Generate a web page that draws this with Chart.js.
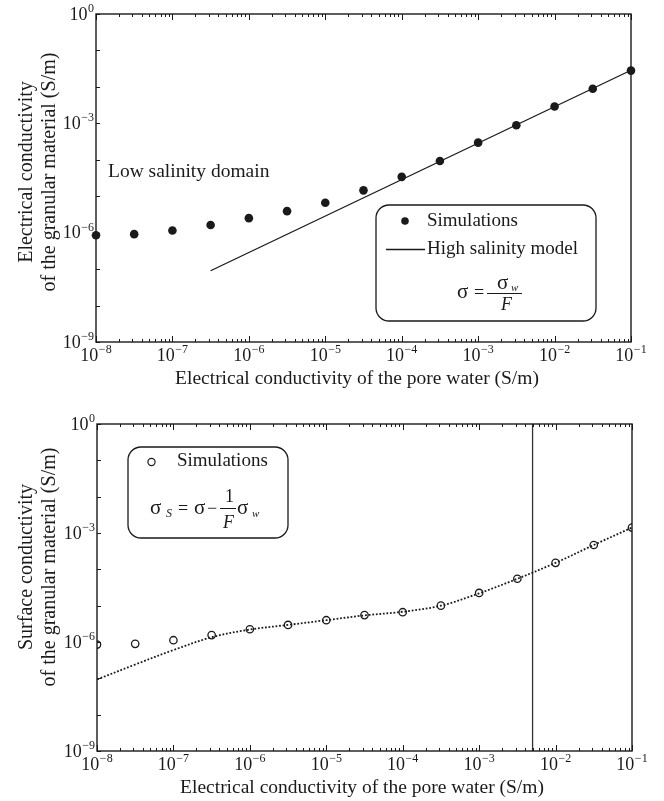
<!DOCTYPE html>
<html>
<head>
<meta charset="utf-8">
<script src="https://cdn.jsdelivr.net/npm/chart.js@4.4.1/dist/chart.umd.min.js"></script>
<style>
  html, body { margin: 0; padding: 0; background: #fff; }
  #wrap { position: relative; width: 664px; height: 801px; }
  canvas { position: absolute; left: 0; }
  #top { top: 0; }
  #bottom { top: 400px; }
</style>
</head>
<body>
<div id="wrap">
  <canvas id="top" width="664" height="400"></canvas>
  <canvas id="bottom" width="664" height="401"></canvas>
</div>
<script>
// Pore-water conductivity (S/m), half-decade steps
const poreWater = [1e-8, 3.16e-8, 1e-7, 3.16e-7, 1e-6, 3.16e-6, 1e-5, 3.16e-5,
                   1e-4, 3.16e-4, 1e-3, 3.16e-3, 1e-2, 3.16e-2, 1e-1];

// Bulk conductivity of the granular material, simulations (S/m)
const bulkSim = [8.5e-7, 9.1e-7, 1.15e-6, 1.62e-6, 2.5e-6, 3.9e-6, 6.6e-6, 1.45e-5,
                 3.4e-5, 9.3e-5, 2.95e-4, 8.9e-4, 2.9e-3, 8.9e-3, 2.8e-2];

// High salinity model sigma = sigma_w / F, end points
const highSalX = [3.16e-7, 1e-1];
const highSalY = [9.0e-8, 2.86e-2];

// Surface conductivity, simulations (S/m)
const surfaceSim = [8.5e-7, 8.9e-7, 1.12e-6, 1.55e-6, 2.24e-6, 2.95e-6, 3.98e-6, 5.5e-6,
                    6.6e-6, 1.0e-5, 2.24e-5, 5.5e-5, 1.51e-4, 4.68e-4, 1.41e-3];

// Surface conductivity trend curve (dotted)
const surfaceFit = [9.3e-8, 2.4e-7, 6.0e-7, 1.35e-6, 2.2e-6, 2.95e-6, 3.98e-6, 5.4e-6,
                    6.8e-6, 1.0e-5, 2.19e-5, 5.5e-5, 1.51e-4, 4.68e-4, 1.41e-3];

// Vertical marker on the lower panel
const markerX = 5e-3;

// Axis ticks (decade exponents)
const xTickExps = [-8, -7, -6, -5, -4, -3, -2, -1];
const yTickExps = [-9, -8, -7, -6, -5, -4, -3, -2, -1, 0];
const yLabelExps = [-9, -6, -3, 0];

const xTitle = 'Electrical conductivity of the pore water (S/m)';
const yTitleTop = ['Electrical conductivity', 'of the granular material (S/m)'];
const yTitleBottom = ['Surface conductivity', 'of the granular material (S/m)'];

const SERIF = '"Liberation Serif", "Times New Roman", serif';
const INK = '#1a1a1a';
Chart.defaults.font.family = SERIF;

function pts(xs, ys) { return xs.map((x, i) => ({ x: x, y: ys[i] })); }

function powLabel(ctx, exp, x, y, align) {
  const base = '10';
  const sup = exp < 0 ? '\u2212' + (-exp) : String(exp);
  ctx.font = '18px ' + SERIF;
  const wb = ctx.measureText(base).width;
  ctx.font = '12px ' + SERIF;
  const ws = ctx.measureText(sup).width;
  const w = wb + ws + 0.5;
  const x0 = align === 'center' ? x - w / 2 : x - w;
  ctx.textAlign = 'left';
  ctx.textBaseline = 'middle';
  ctx.font = '18px ' + SERIF;
  ctx.fillText(base, x0, y);
  ctx.font = '12px ' + SERIF;
  ctx.fillText(sup, x0 + wb + 0.5, y - 6);
}

function roundBox(ctx, x, y, w, h, r) {
  ctx.beginPath();
  ctx.moveTo(x + r, y);
  ctx.arcTo(x + w, y, x + w, y + h, r);
  ctx.arcTo(x + w, y + h, x, y + h, r);
  ctx.arcTo(x, y + h, x, y, r);
  ctx.arcTo(x, y, x + w, y, r);
  ctx.closePath();
  ctx.fillStyle = '#fff';
  ctx.fill();
  ctx.lineWidth = 1.3;
  ctx.strokeStyle = INK;
  ctx.stroke();
}

// Frame, inward ticks, power-of-ten labels and axis titles
function axesPlugin(cfg) {
  return {
    id: 'axesDecor',
    afterDatasetsDraw(chart) {
      const ctx = chart.ctx;
      const a = chart.chartArea;
      const xs = chart.scales.x, ys = chart.scales.y;
      ctx.save();
      ctx.strokeStyle = INK;
      ctx.fillStyle = INK;

      // x ticks, top and bottom, pointing inward
      ctx.lineWidth = 1;
      ctx.beginPath();
      xTickExps.forEach(e => {
        const px = Math.round(xs.getPixelForValue(Math.pow(10, e))) + 0.5;
        ctx.moveTo(px, a.bottom); ctx.lineTo(px, a.bottom - 6);
        ctx.moveTo(px, a.top); ctx.lineTo(px, a.top + 6);
        if (e < -1) {
          for (let k = 2; k <= 9; k++) {
            const pm = Math.round(xs.getPixelForValue(k * Math.pow(10, e))) + 0.5;
            ctx.moveTo(pm, a.bottom); ctx.lineTo(pm, a.bottom - 3);
            ctx.moveTo(pm, a.top); ctx.lineTo(pm, a.top + 3);
          }
        }
      });
      // y ticks on the left side
      yTickExps.forEach(e => {
        const py = Math.round(ys.getPixelForValue(Math.pow(10, e))) + 0.5;
        ctx.moveTo(a.left, py); ctx.lineTo(a.left + 4, py);
      });
      ctx.stroke();

      // frame
      ctx.lineWidth = 1.4;
      ctx.strokeRect(a.left, a.top, a.right - a.left, a.bottom - a.top);

      // tick labels
      xTickExps.forEach(e => {
        powLabel(ctx, e, xs.getPixelForValue(Math.pow(10, e)), a.bottom + 14, 'center');
      });
      yLabelExps.forEach(e => {
        powLabel(ctx, e, a.left - 2, ys.getPixelForValue(Math.pow(10, e)) + 1, 'right');
      });

      // axis titles
      ctx.font = '19.5px ' + SERIF;
      ctx.textAlign = 'center';
      ctx.textBaseline = 'middle';
      ctx.fillText(xTitle, cfg.xTitleX, a.bottom + cfg.xTitleOffset);
      ctx.font = '20px ' + SERIF;
      ctx.save();
      ctx.translate(27, cfg.yTitleY);
      ctx.rotate(-Math.PI / 2);
      ctx.fillText(cfg.yTitle[0], 0, 0);
      ctx.fillText(cfg.yTitle[1], 0, 23);
      ctx.restore();

      if (cfg.extra) cfg.extra(ctx, chart);
      ctx.restore();
    }
  };
}

// ---------- upper panel: bulk conductivity ----------
new Chart(document.getElementById('top'), {
  type: 'scatter',
  data: {
    datasets: [
      {
        label: 'Simulations',
        data: pts(poreWater, bulkSim),
        showLine: false,
        pointRadius: 4.3,
        pointBackgroundColor: INK,
        pointBorderColor: INK,
        pointBorderWidth: 0,
        clip: false,
        order: 0
      },
      {
        label: 'High salinity model',
        data: pts(highSalX, highSalY),
        showLine: true,
        borderColor: INK,
        borderWidth: 1.3,
        pointRadius: 0,
        clip: false,
        order: 1
      }
    ]
  },
  options: {
    responsive: false,
    animation: false,
    devicePixelRatio: 1,
    layout: { padding: { left: 96, right: 33, top: 14, bottom: 58 } },
    plugins: { legend: { display: false }, tooltip: { enabled: false } },
    scales: {
      x: { type: 'logarithmic', min: 1e-8, max: 1e-1, display: false },
      y: { type: 'logarithmic', min: 1e-9, max: 1, display: false }
    }
  },
  plugins: [axesPlugin({
    xTitleX: 357, xTitleOffset: 37,
    yTitle: yTitleTop, yTitleY: 172,
    extra(ctx) {
      ctx.fillStyle = INK;
      ctx.font = '19.5px ' + SERIF;
      ctx.textAlign = 'left';
      ctx.textBaseline = 'middle';
      ctx.fillText('Low salinity domain', 108, 172);

      // legend box
      roundBox(ctx, 376, 205, 220, 116, 13);
      ctx.fillStyle = INK;
      ctx.beginPath(); ctx.arc(405, 221, 3.8, 0, Math.PI * 2); ctx.fill();
      ctx.font = '19px ' + SERIF;
      ctx.textBaseline = 'middle';
      ctx.fillText('Simulations', 427, 221);
      ctx.lineWidth = 1.3;
      ctx.beginPath(); ctx.moveTo(386, 249.5); ctx.lineTo(425, 249.5); ctx.stroke();
      ctx.fillText('High salinity model', 427, 249);

      // sigma = sigma_w / F
      ctx.textBaseline = 'alphabetic';
      ctx.font = '21px ' + SERIF;
      ctx.fillText('\u03C3', 457, 298);
      ctx.font = '18px ' + SERIF;
      ctx.fillText('=', 474, 298);
      ctx.lineWidth = 1;
      ctx.beginPath(); ctx.moveTo(487, 293.5); ctx.lineTo(522, 293.5); ctx.stroke();
      ctx.font = '21px ' + SERIF;
      ctx.fillText('\u03C3', 497, 289);
      ctx.font = 'italic 11px ' + SERIF;
      ctx.fillText('w', 511, 291);
      ctx.font = 'italic 18px ' + SERIF;
      ctx.fillText('F', 501, 310);
    }
  })]
});

// ---------- lower panel: surface conductivity ----------
new Chart(document.getElementById('bottom'), {
  type: 'scatter',
  data: {
    datasets: [
      {
        label: 'Simulations',
        data: pts(poreWater, surfaceSim),
        showLine: false,
        pointRadius: 3.7,
        pointBackgroundColor: 'rgba(255,255,255,0)',
        pointBorderColor: INK,
        pointBorderWidth: 1.3,
        clip: 0,
        order: 0
      },
      {
        label: 'Trend',
        data: pts(poreWater, surfaceFit),
        showLine: true,
        borderColor: INK,
        borderWidth: 1.8,
        borderDash: [1.8, 1.8],
        tension: 0.35,
        pointRadius: 0,
        clip: 0,
        order: 1
      },
      {
        label: 'Marker',
        data: [{ x: markerX, y: 1e-9 }, { x: markerX, y: 1 }],
        showLine: true,
        borderColor: '#333',
        borderWidth: 1.3,
        pointRadius: 0,
        clip: 0,
        order: 2
      }
    ]
  },
  options: {
    responsive: false,
    animation: false,
    devicePixelRatio: 1,
    layout: { padding: { left: 97, right: 32, top: 24, bottom: 50 } },
    plugins: { legend: { display: false }, tooltip: { enabled: false } },
    scales: {
      x: { type: 'logarithmic', min: 1e-8, max: 1e-1, display: false },
      y: { type: 'logarithmic', min: 1e-9, max: 1, display: false }
    }
  },
  plugins: [axesPlugin({
    xTitleX: 362, xTitleOffset: 37,
    yTitle: yTitleBottom, yTitleY: 167,
    extra(ctx) {
      roundBox(ctx, 128, 47, 160, 91, 13);
      ctx.fillStyle = INK;
      ctx.strokeStyle = INK;
      ctx.lineWidth = 1.2;
      ctx.beginPath(); ctx.arc(151.5, 62, 3.6, 0, Math.PI * 2); ctx.stroke();
      ctx.font = '19px ' + SERIF;
      ctx.textAlign = 'left';
      ctx.textBaseline = 'middle';
      ctx.fillText('Simulations', 177, 61);

      // sigma_S = sigma - (1/F) sigma_w
      ctx.textBaseline = 'alphabetic';
      ctx.font = '21px ' + SERIF;
      ctx.fillText('\u03C3', 150, 114);
      ctx.font = 'italic 12px ' + SERIF;
      ctx.fillText('S', 166, 117);
      ctx.font = '18px ' + SERIF;
      ctx.fillText('=', 178, 114);
      ctx.font = '21px ' + SERIF;
      ctx.fillText('\u03C3', 194, 114);
      ctx.font = '18px ' + SERIF;
      ctx.fillText('\u2212', 207, 114);
      ctx.lineWidth = 1;
      ctx.beginPath(); ctx.moveTo(220, 108.5); ctx.lineTo(236, 108.5); ctx.stroke();
      ctx.font = '18px ' + SERIF;
      ctx.fillText('1', 225, 102);
      ctx.font = 'italic 18px ' + SERIF;
      ctx.fillText('F', 223, 128);
      ctx.font = '21px ' + SERIF;
      ctx.fillText('\u03C3', 237, 114);
      ctx.font = 'italic 11px ' + SERIF;
      ctx.fillText('w', 252, 117);
    }
  })]
});
</script>
</body>
</html>
